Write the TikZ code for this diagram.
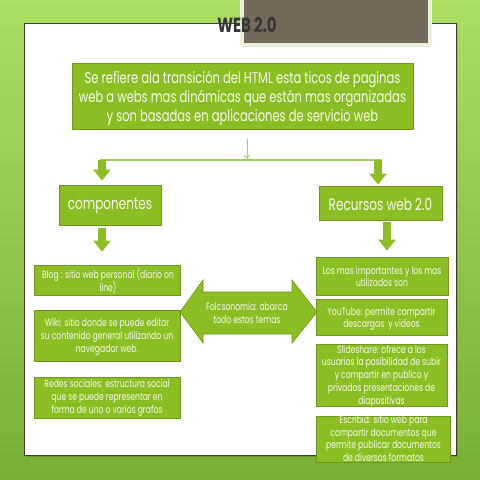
\documentclass[tikz,border=0pt]{standalone}
\usepackage{fontspec}
\setmainfont[FakeStretch=0.73]{Poppins}
\usetikzlibrary{arrows.meta}
\definecolor{bgtop}{RGB}{172,222,98}
\definecolor{bgbot}{RGB}{120,176,52}
\definecolor{boxgreen}{RGB}{140,189,35}
\definecolor{boxedge}{RGB}{112,152,28}
\definecolor{thingreen}{RGB}{168,204,100}
\definecolor{paneledge}{RGB}{60,62,55}
\definecolor{graybox}{RGB}{116,106,92}
\definecolor{grayedge}{RGB}{232,240,220}
\definecolor{titlecol}{RGB}{55,55,55}
\definecolor{txtwhite}{RGB}{245,250,235}
\tikzset{
  gbox/.style={draw=boxedge, line width=0.8pt, fill=boxgreen, inner sep=0pt},
  smalltxt/.style={text=txtwhite, align=center, inner sep=0pt, font=\fontsize{10.5}{12.8}\selectfont},
  bigtxt/.style={text=txtwhite, align=center, inner sep=0pt, font=\fontsize{15.8}{19}\selectfont},
  fatarr/.style={draw=boxgreen, line width=8pt, -{Triangle[width=17pt,length=11pt]}},
  thinarr/.style={draw=thingreen, line width=1pt, -{Straight Barb[width=5pt,length=3pt]}},
  thinline/.style={draw=thingreen, line width=1.5pt},
}
\begin{document}
\begin{tikzpicture}[x=1pt,y=-1pt]
\useasboundingbox (0,0) rectangle (480,480);
% background
\shade[top color=bgtop, bottom color=bgbot] (0,0) rectangle (480,480);
% white panel
\fill[black, opacity=0.15] (26,25) rectangle (458,457);
\draw[paneledge, line width=1pt, fill=white] (24,23) rectangle (456,455);
% gray box at top
\fill[grayedge] (240,0) rectangle (432,47);
\fill[graybox] (244,0) rectangle (428,43);
% title
\node[text=titlecol, inner sep=0pt, font=\fontsize{20.5}{22}\bfseries\selectfont] (title) at (247,25) {WEB 2.0};

% main box
\node[gbox, minimum width=341pt, minimum height=66pt] (main) at (242.5,96) {};
\node[bigtxt] (maintxt) at (242.5,98) {Se refiere ala transición del HTML esta ticos de paginas\\web a webs mas dinámicas que están mas organizadas\\y son basadas en aplicaciones de servicio web};

% split connectors
\coordinate (jl) at (102,160);
\coordinate (jc) at (247,160);
\coordinate (jr) at (378,160);
\draw[thinarr] ([yshift=-10pt]main.south -| jc) -- ([yshift=1pt]jc);
\draw[thinline] ([xshift=-2pt]jl) -- ([xshift=3pt]jr);

% left column
\node[gbox, minimum width=102pt, minimum height=40pt] (comp) at (110,205) {};
\node[text=txtwhite, inner sep=0pt, font=\fontsize{16.5}{20}\selectfont] at (110,206) {componentes};
\node[gbox, minimum width=146pt, minimum height=30pt] (blog) at (107,280) {};
\node[smalltxt] at (108,281) {Blog : sitio web personal (diario on\\line)};
\node[gbox, minimum width=146pt, minimum height=51pt] (wiki) at (107,335.5) {};
\node[smalltxt] at (107,337) {Wiki: sitio donde se puede editar\\su contenido general utilizando un\\navegador web.};
\node[gbox, minimum width=146pt, minimum height=41pt] (redes) at (107,397.5) {};
\node[smalltxt] at (107,398) {Redes sociales: estructura social\\que se puede representar en\\forma de uno o varios grafos};

\draw[fatarr] (jl) -- ([yshift=4pt]jl |- comp.north);
\draw[fatarr] ([yshift=-3pt]comp.south -| jl) -- ([yshift=13pt]blog.north -| jl);

% right column
\node[gbox, minimum width=123pt, minimum height=34pt] (rec) at (380.5,203) {};
\node[text=txtwhite, inner sep=0pt, font=\fontsize{16.5}{19}\selectfont] at (380.5,204) {Recursos web 2.0};
\node[gbox, minimum width=132pt, minimum height=38pt] (los) at (382,276) {};
\node[smalltxt] at (382,276.5) {Los mas importantes y los mas\\utilizados son};
\node[gbox, minimum width=131pt, minimum height=36pt] (yt) at (381.5,317.5) {};
\node[smalltxt] at (381.5,319) {YouTube: permite compartir\\descargas~ y videos};
\node[gbox, minimum width=131pt, minimum height=62pt] (slide) at (381.5,375) {};
\node[smalltxt] at (381.5,376) {Slideshare: ofrece a los\\usuarios la posibilidad de subir\\y compartir en publico y\\privados presentaciones de\\diapositivas};
\node[gbox, minimum width=134pt, minimum height=46pt] (esc) at (383.5,439) {};
\node[smalltxt] at (383.5,438.5) {Escribid: sitio web para\\compartir documentos que\\permite publicar documentos\\de diversos formatos};

\draw[fatarr] (jr) -- ([yshift=1pt]jr |- rec.north);
\coordinate (jr2) at (387,0);
\draw[fatarr] ([yshift=-2pt]rec.south -| jr2) -- ([yshift=6pt]los.north -| jr2);

% double arrow
\fill[boxgreen, draw=boxedge, line width=0.6pt] (180,312) -- (203,280) -- (203,292) -- (292,292) -- (292,280) -- (317,312) -- (292,343) -- (292,334) -- (203,334) -- (203,343) -- cycle;
\node[smalltxt] (fol) at (247,313) {Folcsonomia: abarca\\todo estos temas};
\end{tikzpicture}
\end{document}
